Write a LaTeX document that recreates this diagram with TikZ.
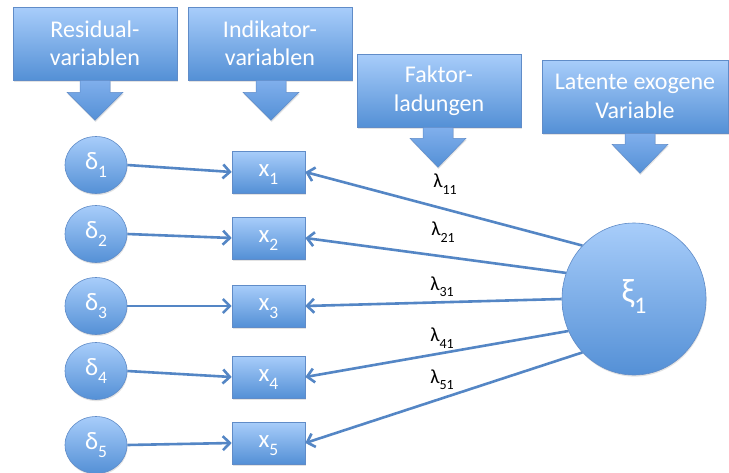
\documentclass[tikz,border=0pt]{standalone}
\usepackage{fontspec}
\usepackage{graphicx}
\setmainfont{Carlito}
\usetikzlibrary{shapes.geometric,arrows.meta,shadows,calc}

\definecolor{boxtop}{RGB}{168,205,250}
\definecolor{boxbot}{RGB}{84,144,214}
\definecolor{arrtop}{RGB}{128,175,236}
\definecolor{boxline}{RGB}{96,140,200}
\definecolor{link}{RGB}{84,134,197}

% lowered, reduced subscript in text font
\newcommand\lowsub[1]{\raisebox{-0.32em}{\scalebox{0.7}{#1}}}
% block arrow pointing down, hanging from the bottom of a caption box
\newcommand\hangarrow[3]{%
  \path[arrowfill] ($(#1.south)+(#2,0)$) ++(-15,0) -- ++(30,0) -- ++(0,#3)
    -- ++(13,0) -- ++(-28,40-#3) -- ++(-28,-40+#3) -- ++(13,0) -- cycle;}

\begin{document}
\begin{tikzpicture}[x=1pt,y=-1pt,
  bluefill/.style={top color=boxtop, bottom color=boxbot, draw=boxline, line width=0.6pt},
  shade/.style={drop shadow={opacity=0.22, shadow xshift=0.6pt, shadow yshift=-1.6pt}},
  captionbox/.style={bluefill, shade, rectangle, minimum width=164pt, minimum height=73pt,
    inner sep=0pt, text=white, align=center, font=\fontsize{24}{28.5}\selectfont},
  arrowfill/.style={top color=arrtop, bottom color=boxbot, draw=boxline, line width=0.5pt, shade},
  resid/.style={ellipse, bluefill, shade, minimum width=62pt, minimum height=57pt,
    inner sep=0pt, text=white, font=\fontsize{25}{28}\selectfont,
    text height=0.84em, text depth=0pt},
  indic/.style={rectangle, bluefill, shade, minimum width=73pt, minimum height=42pt,
    inner sep=0pt, text=white, font=\fontsize{25}{28}\selectfont,
    text height=0.86em, text depth=0pt},
  latent/.style={ellipse, bluefill, shade, minimum width=144pt, minimum height=152pt,
    inner sep=0pt, text=white, font=\fontsize{34}{38}\selectfont,
    text height=0.76em, text depth=0pt},
  loading/.style={text=black, inner sep=0pt, font=\fontsize{20}{23}\selectfont},
  link/.style={draw=link, line width=2.6pt, -{Straight Barb[length=7pt,width=14pt]}}
]
\fill[white] (0,0) rectangle (729,472);
\useasboundingbox (0,0) rectangle (729,472);

% caption boxes with their block arrows
\node[captionbox] (cres) at (95,43.5) {Residual-\\variablen};
\node[captionbox] (cind) at (270,43.5) {Indikator-\\variablen};
\node[captionbox] (cfak) at (439,90.5) {Faktor-\\ladungen};
\node[captionbox, minimum width=186pt] (clat) at (635,96.5) {Latente exogene\\Variable};
\hangarrow{cres}{0}{12}
\hangarrow{cind}{1}{12}
\hangarrow{cfak}{-1}{11}
\hangarrow{clat}{5}{11}

% residuals
\node[resid] (d1) at (96,165) {δ\lowsub{1}};
\node[resid] (d2) at (96,234) {δ\lowsub{2}};
\node[resid] (d3) at (96,306) {δ\lowsub{3}};
\node[resid] (d4) at (96,371) {δ\lowsub{4}};
\node[resid] (d5) at (96,445) {δ\lowsub{5}};

% indicators
\node[indic] (x1) at (268.5,172) {x\lowsub{1}};
\node[indic] (x2) at (268.5,238) {x\lowsub{2}};
\node[indic] (x3) at (268.5,306) {x\lowsub{3}};
\node[indic] (x4) at (268.5,377) {x\lowsub{4}};
\node[indic] (x5) at (268.5,443) {x\lowsub{5}};

% latent factor
\node[latent] (xi) at (634,299) {ξ\lowsub{1}};

% residual paths
\foreach \i in {1,...,5}
  \draw[link] (d\i.east) -- (x\i.west);

% loading paths
\draw[link] (xi.134) -- (x1.east);
\draw[link] (xi.159) -- (x2.east);
\draw[link] (xi.180) -- (x3.east);
\draw[link] (xi.206) -- (x4.east);
\draw[link] (xi.226) -- (x5.east);

% loading labels
\node[loading] (l11) at (445,184) {λ\lowsub{11}};
\node[loading] (l21) at (443,232) {λ\lowsub{21}};
\node[loading] (l31) at (442,287) {λ\lowsub{31}};
\node[loading] (l41) at (442,338) {λ\lowsub{41}};
\node[loading] (l51) at (442,380) {λ\lowsub{51}};
\end{tikzpicture}
\end{document}
